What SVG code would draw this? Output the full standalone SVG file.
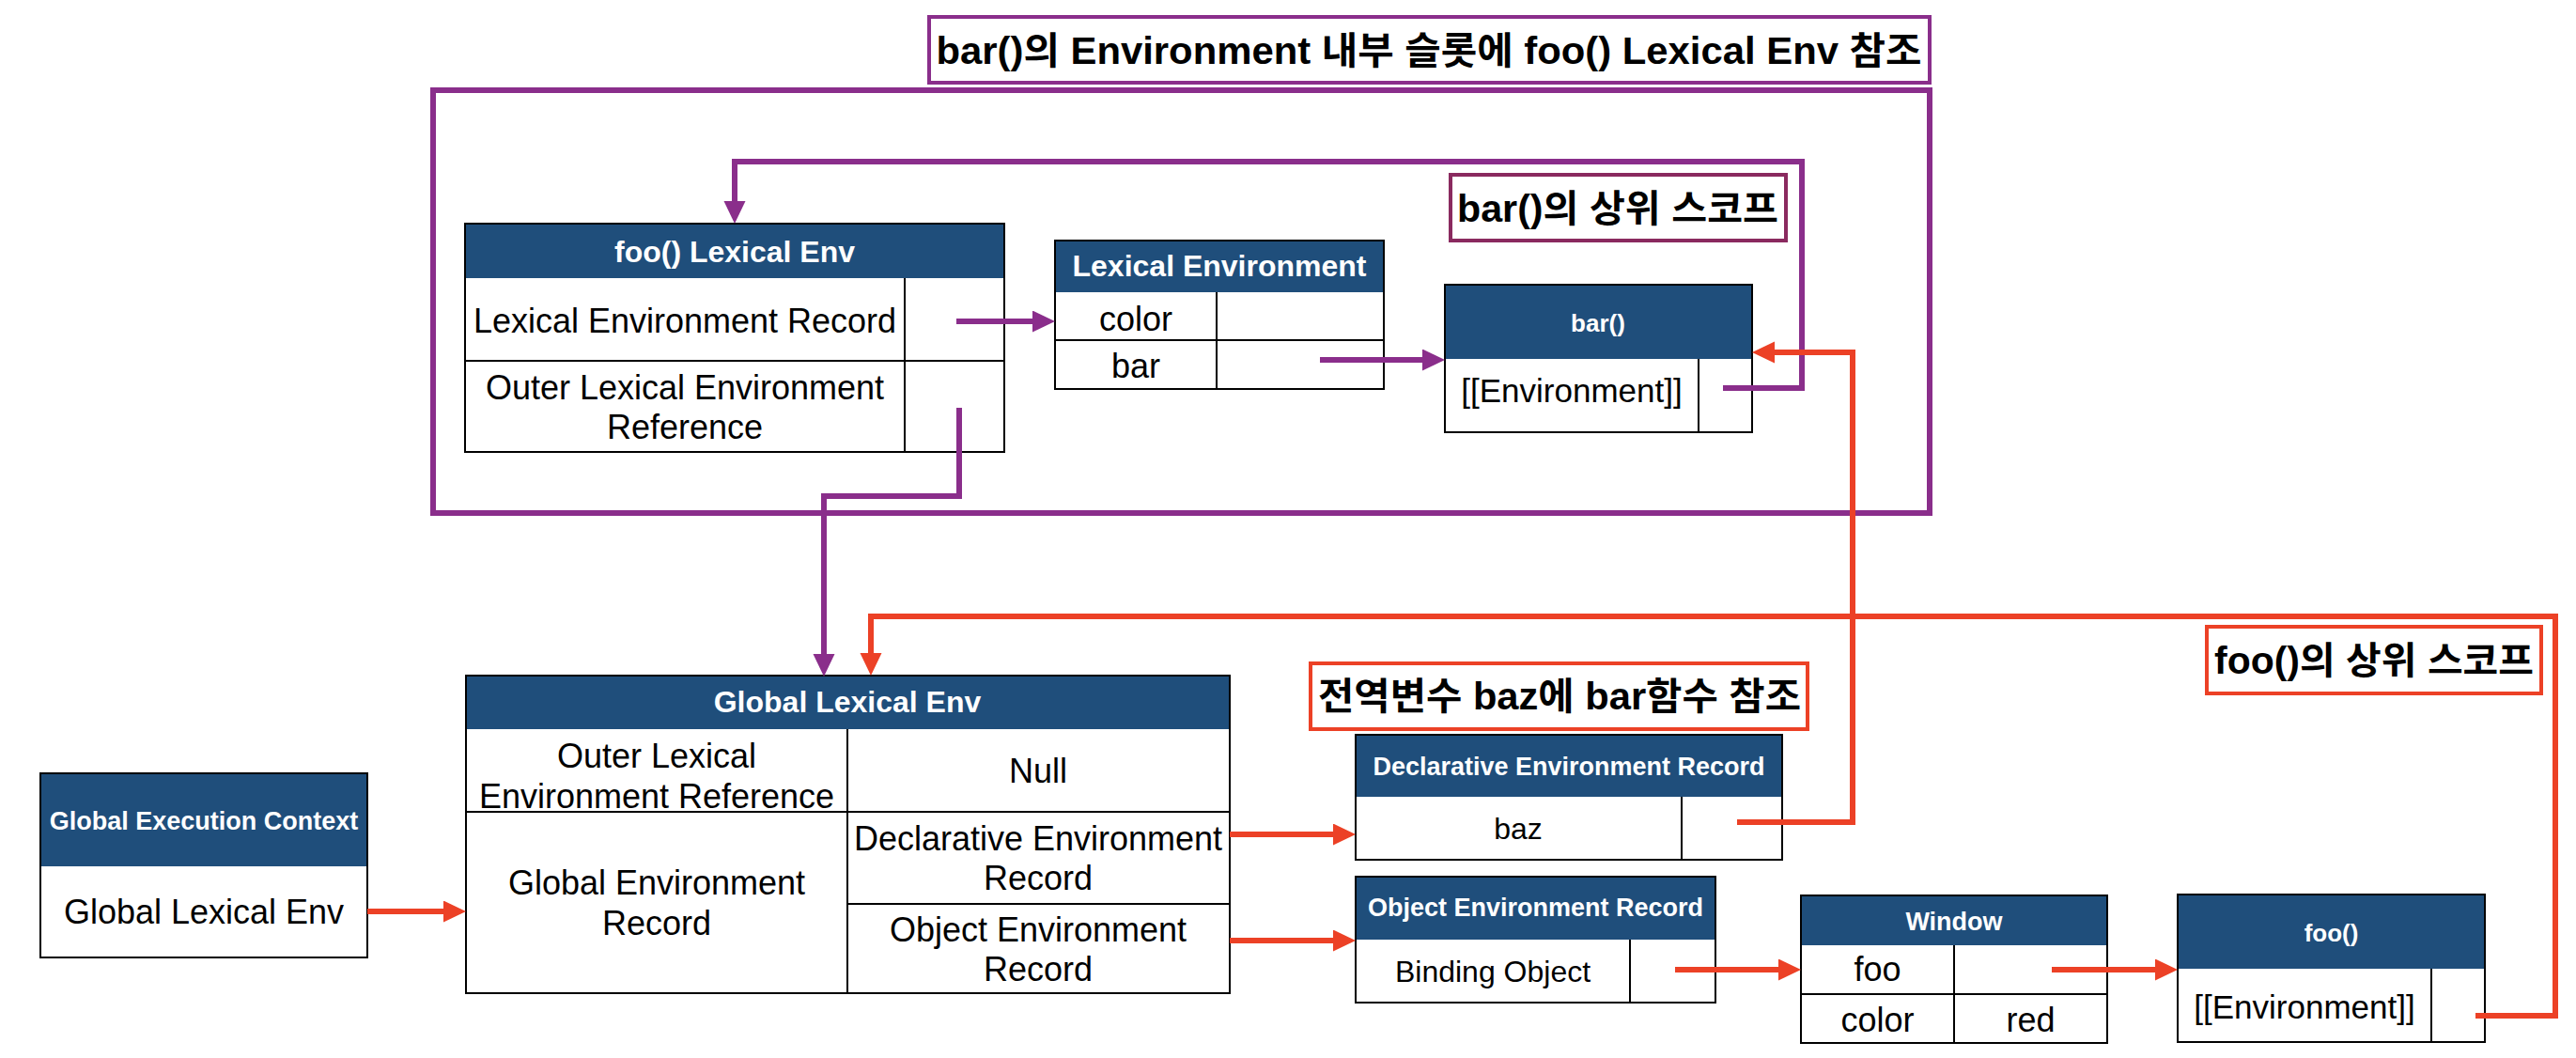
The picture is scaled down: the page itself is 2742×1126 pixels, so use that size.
<svg xmlns="http://www.w3.org/2000/svg" width="2742" height="1126" viewBox="0 0 2742 1126">
<style>
.bg{fill:#fff}
.box{fill:#fff;stroke:#000;stroke-width:2}
.hdr{fill:#1F4E7B}
.ln{stroke:#000;stroke-width:2}
.ht{font-family:"Liberation Sans",Arial,sans-serif;font-weight:bold;fill:#fff;text-anchor:middle}
.bt{font-family:"Liberation Sans",Arial,sans-serif;fill:#000;text-anchor:middle}
.kt{font-family:"Liberation Sans","Noto Sans CJK KR",sans-serif;font-weight:bold;font-size:40px;fill:#000;text-anchor:middle}
.pur{fill:none;stroke:#8A2E8B;stroke-width:6}
.red{fill:none;stroke:#EC4126;stroke-width:6}
</style>
<defs>
<marker id="ap" markerUnits="userSpaceOnUse" markerWidth="26" markerHeight="24" refX="2" refY="11.5" orient="auto" viewBox="0 0 26 24">
<path d="M0,0 L24,11.5 L0,23 z" fill="#8A2E8B"/>
</marker>
<marker id="ar" markerUnits="userSpaceOnUse" markerWidth="26" markerHeight="24" refX="2" refY="11.5" orient="auto" viewBox="0 0 26 24">
<path d="M0,0 L24,11.5 L0,23 z" fill="#EC4126"/>
</marker>
</defs>
<rect class="bg" x="0" y="0" width="2742" height="1126"/>

<g id="label-bar-env">
<rect x="989" y="18" width="1065" height="70" fill="#fff" stroke="#8A2E8B" stroke-width="4"/>
<text class="kt" x="1521" y="68" textLength="1049" lengthAdjust="spacingAndGlyphs">bar()의 Environment 내부 슬롯에 foo() Lexical Env 참조</text>
</g>
<g id="frame-foo-scope">
<rect x="461" y="96" width="1593" height="450" fill="none" stroke="#8A2E8B" stroke-width="6"/>
</g>

<g id="foo-lexical-env">
<rect class="box" x="495" y="238" width="574" height="243"/>
<rect class="hdr" x="495" y="238" width="574" height="58"/>
<line class="ln" x1="495" y1="384" x2="1069" y2="384"/>
<line class="ln" x1="963" y1="296" x2="963" y2="481"/>
<rect x="495" y="238" width="574" height="243" fill="none" stroke="#000" stroke-width="2"/>
<text class="ht" x="782" y="279" font-size="32">foo() Lexical Env</text>
<text class="bt" x="729" y="354" font-size="36">Lexical Environment Record</text>
<text class="bt" x="729" y="425" font-size="36">Outer Lexical Environment</text>
<text class="bt" x="729" y="467" font-size="36">Reference</text>
</g>

<g id="lexical-environment-record">
<rect class="hdr" x="1123" y="256" width="350" height="55"/>
<text class="ht" x="1298" y="294" font-size="32">Lexical Environment</text>
<rect x="1123" y="311" width="350" height="103" fill="#fff"/>
<line class="ln" x1="1123" y1="362" x2="1473" y2="362"/>
<line class="ln" x1="1295" y1="311" x2="1295" y2="414"/>
<rect x="1123" y="256" width="350" height="158" fill="none" stroke="#000" stroke-width="2"/>
<text class="bt" x="1209" y="352" font-size="36">color</text>
<text class="bt" x="1209" y="402" font-size="36">bar</text>
</g>

<g id="bar-fn">
<rect class="box" x="1538" y="303" width="327" height="157"/>
<rect class="hdr" x="1538" y="303" width="327" height="79"/>
<line class="ln" x1="1808" y1="382" x2="1808" y2="460"/>
<rect x="1538" y="303" width="327" height="157" fill="none" stroke="#000" stroke-width="2"/>
<text class="ht" x="1701" y="353" font-size="26">bar()</text>
<text class="bt" x="1673" y="428" font-size="35">[[Environment]]</text>
</g>

<g id="label-bar-scope">
<rect x="1544" y="186" width="357" height="70" fill="#fff" stroke="#8A2A5F" stroke-width="4"/>
<text class="kt" x="1722" y="236" textLength="342" lengthAdjust="spacingAndGlyphs">bar()의 상위 스코프</text>
</g>

<g id="global-execution-context">
<rect class="box" x="43" y="823" width="348" height="196"/>
<rect class="hdr" x="43" y="823" width="348" height="99"/>
<rect x="43" y="823" width="348" height="196" fill="none" stroke="#000" stroke-width="2"/>
<text class="ht" x="217" y="883" font-size="27">Global Execution Context</text>
<text class="bt" x="217" y="983" font-size="36">Global Lexical Env</text>
</g>

<g id="global-lexical-env">
<rect class="box" x="496" y="719" width="813" height="338"/>
<rect class="hdr" x="496" y="719" width="813" height="57"/>
<line class="ln" x1="496" y1="864" x2="1309" y2="864"/>
<line class="ln" x1="902" y1="776" x2="902" y2="1057"/>
<line class="ln" x1="902" y1="962" x2="1309" y2="962"/>
<rect x="496" y="719" width="813" height="338" fill="none" stroke="#000" stroke-width="2"/>
<text class="ht" x="902" y="758" font-size="32">Global Lexical Env</text>
<text class="bt" x="699" y="817" font-size="36">Outer Lexical</text>
<text class="bt" x="699" y="860" font-size="36">Environment Reference</text>
<text class="bt" x="1105" y="833" font-size="36">Null</text>
<text class="bt" x="699" y="952" font-size="36">Global Environment</text>
<text class="bt" x="699" y="995" font-size="36">Record</text>
<text class="bt" x="1105" y="905" font-size="36">Declarative Environment</text>
<text class="bt" x="1105" y="947" font-size="36">Record</text>
<text class="bt" x="1105" y="1002" font-size="36">Object Environment</text>
<text class="bt" x="1105" y="1044" font-size="36">Record</text>
</g>

<g id="label-baz">
<rect x="1395" y="706" width="529" height="70" fill="#fff" stroke="#EC4126" stroke-width="4"/>
<text class="kt" x="1660" y="755" textLength="514" lengthAdjust="spacingAndGlyphs">전역변수 baz에 bar함수 참조</text>
</g>

<g id="declarative-environment-record">
<rect class="box" x="1443" y="782" width="454" height="133"/>
<rect class="hdr" x="1443" y="782" width="454" height="66"/>
<line class="ln" x1="1790" y1="848" x2="1790" y2="915"/>
<rect x="1443" y="782" width="454" height="133" fill="none" stroke="#000" stroke-width="2"/>
<text class="ht" x="1670" y="825" font-size="27">Declarative Environment Record</text>
<text class="bt" x="1616" y="893" font-size="32">baz</text>
</g>

<g id="object-environment-record">
<rect class="box" x="1443" y="933" width="383" height="134"/>
<rect class="hdr" x="1443" y="933" width="383" height="67"/>
<line class="ln" x1="1735" y1="1000" x2="1735" y2="1067"/>
<rect x="1443" y="933" width="383" height="134" fill="none" stroke="#000" stroke-width="2"/>
<text class="ht" x="1634.5" y="975" font-size="27">Object Environment Record</text>
<text class="bt" x="1589" y="1045" font-size="32">Binding Object</text>
</g>

<g id="window">
<rect class="box" x="1917" y="953" width="326" height="157"/>
<rect class="hdr" x="1917" y="953" width="326" height="53"/>
<line class="ln" x1="1917" y1="1058" x2="2243" y2="1058"/>
<line class="ln" x1="2080" y1="1006" x2="2080" y2="1110"/>
<rect x="1917" y="953" width="326" height="157" fill="none" stroke="#000" stroke-width="2"/>
<text class="ht" x="2080" y="990" font-size="27">Window</text>
<text class="bt" x="1998.5" y="1044" font-size="36">foo</text>
<text class="bt" x="1998.5" y="1098" font-size="36">color</text>
<text class="bt" x="2161.5" y="1098" font-size="36">red</text>
</g>

<g id="foo-fn">
<rect class="box" x="2318" y="952" width="327" height="157"/>
<rect class="hdr" x="2318" y="952" width="327" height="79"/>
<line class="ln" x1="2588" y1="1031" x2="2588" y2="1109"/>
<rect x="2318" y="952" width="327" height="157" fill="none" stroke="#000" stroke-width="2"/>
<text class="ht" x="2481.5" y="1002" font-size="26">foo()</text>
<text class="bt" x="2453" y="1084" font-size="35">[[Environment]]</text>
</g>

<g id="label-foo-scope">
<rect x="2349" y="667" width="356" height="71" fill="#fff" stroke="#EC4126" stroke-width="4"/>
<text class="kt" x="2527" y="717" textLength="340" lengthAdjust="spacingAndGlyphs">foo()의 상위 스코프</text>
</g>

<g id="connectors">
<polyline class="pur" points="1834,413 1918,413 1918,172 782,172 782,216" marker-end="url(#ap)"/>
<polyline class="pur" points="1018,342 1101,342" marker-end="url(#ap)"/>
<polyline class="pur" points="1405,383 1516,383" marker-end="url(#ap)"/>
<polyline class="pur" points="1021,434 1021,528 877,528 877,698" marker-end="url(#ap)"/>
<polyline class="red" points="391,970 474,970" marker-end="url(#ar)"/>
<polyline class="red" points="1309,888 1421,888" marker-end="url(#ar)"/>
<polyline class="red" points="1309,1001 1421,1001" marker-end="url(#ar)"/>
<polyline class="red" points="1849,875 1972,875 1972,375 1887,375" marker-end="url(#ar)"/>
<polyline class="red" points="1783,1032 1895,1032" marker-end="url(#ar)"/>
<polyline class="red" points="2184,1032 2296,1032" marker-end="url(#ar)"/>
<polyline class="red" points="2635,1081 2720,1081 2720,656 927,656 927,697" marker-end="url(#ar)"/>
</g>
</svg>
